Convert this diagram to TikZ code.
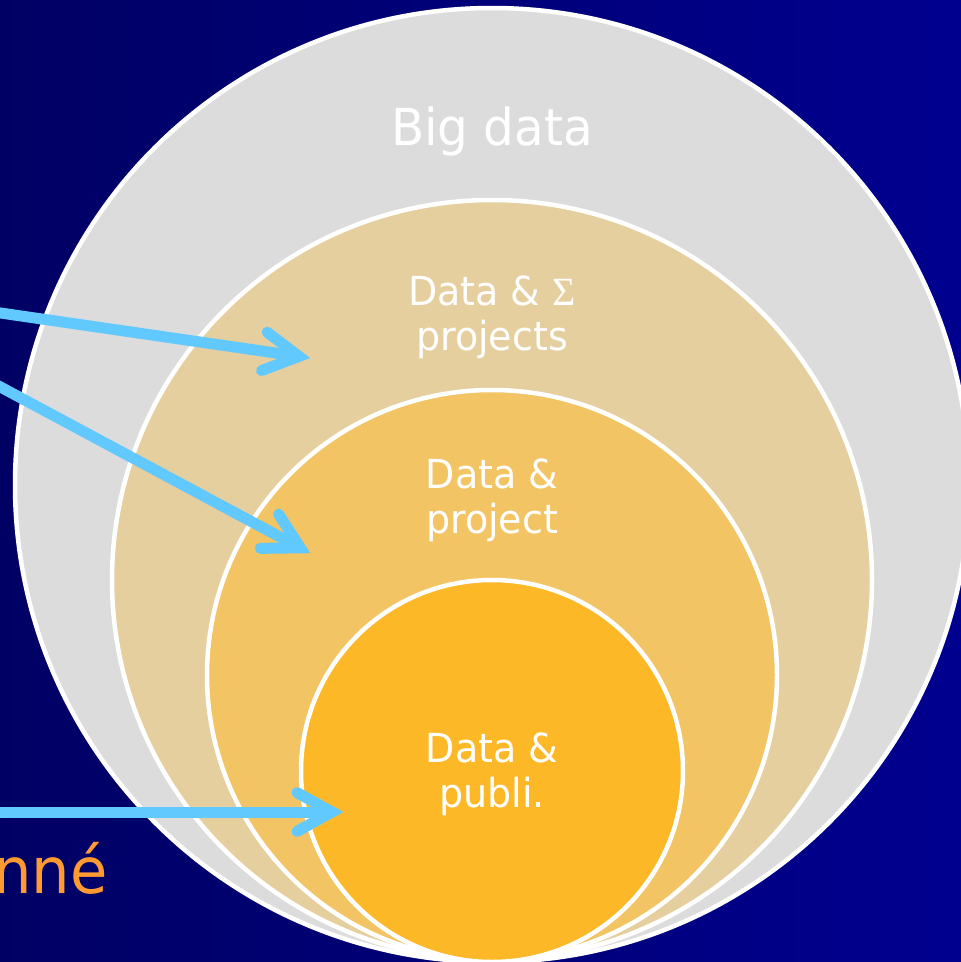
\documentclass[tikz,border=0pt]{standalone}
\usepackage{fontspec}
\setmainfont{DejaVu Sans}[FakeStretch=0.95]
\newfontfamily\sigmafont{Liberation Serif}
\usetikzlibrary{calc}
\definecolor{bgL}{HTML}{000064}
\definecolor{bgR}{HTML}{00008F}
\definecolor{cBig}{HTML}{DCDCDC}
\definecolor{cSig}{HTML}{E6CF9E}
\definecolor{cProj}{HTML}{F2C464}
\definecolor{cPub}{HTML}{FDB827}
\definecolor{arrowc}{HTML}{62C9FF}
\definecolor{orangec}{HTML}{FF9A33}
\begin{document}
\begin{tikzpicture}[x=1pt,y=-1pt,
  ring/.style={circle, draw=white, line width=4.5pt, inner sep=0pt},
  lbl/.style={text=white, align=center, font=\fontsize{40}{45}\selectfont, inner sep=0pt},
  pointer/.style={draw=arrowc, line width=11pt},
  barb/.style={draw=arrowc, line width=11pt, line cap=round, line join=miter}]
\useasboundingbox (0,0) rectangle (961,962);
\clip (0,0) rectangle (961,962);
\shade[left color=bgL, right color=bgR] (0,0) rectangle (961,962);
% circles
\node[ring, fill=cBig, minimum size=954pt] (big) at (492,485) {};
\node[ring, fill=cSig, minimum size=760pt] (sig) at (492,580) {};
\node[ring, fill=cProj, minimum size=570pt] (proj) at (492,675) {};
\node[ring, fill=cPub, minimum size=382pt] (pub) at (492,771) {};
% labels (base anchor = baseline of last line)
\node[lbl, font=\fontsize{51}{60}\selectfont, anchor=base] (tbig) at (492,145) {Big data};
\node[lbl, anchor=base] (tsig) at (492,350) {Data \& {\sigmafont Σ}\\projects};
\node[lbl, anchor=base] (tproj) at (492,533) {Data \&\\project};
\node[lbl, anchor=base] (tpub) at (492,807) {Data \&\\publi.};
\node[font=\fontsize{64}{70}\selectfont, text=orangec, anchor=base east, inner sep=0pt] (tdon) at (108,893) {nné};
% arrows
\coordinate (s1) at (-20,310);  \coordinate (t1) at (299,356.4);
\coordinate (s2) at (-20,376);  \coordinate (t2) at (300.3,547.8);
\coordinate (s3) at (-20,812);  \coordinate (t3) at (332,812);
\foreach \s/\t in {s1/t1, s2/t2, s3/t3} {
  \draw[pointer] (\s) -- ($(\t)!3pt!(\s)$);
  \draw[barb] ($(\t)!40pt!29:(\s)$) -- (\t) -- ($(\t)!40pt!-29:(\s)$);
}
\end{tikzpicture}
\end{document}
